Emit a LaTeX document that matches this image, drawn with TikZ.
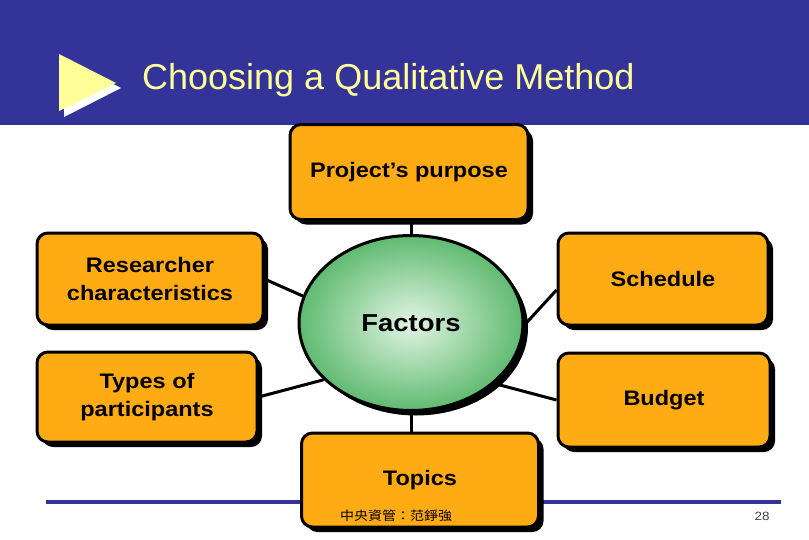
\documentclass[tikz,border=0pt]{standalone}
\usepackage{fontspec}
\setmainfont[FakeStretch=1.12]{Liberation Sans}
\newfontfamily\titlefont{Liberation Sans}
\newfontfamily\cjk[FakeStretch=1.12]{Noto Sans CJK TC}
\usepackage{xcolor}
\usepackage{tikz}
\usetikzlibrary{shapes.geometric, shadows, positioning}
\definecolor{hdrblue}{RGB}{51,51,153}
\definecolor{titleyellow}{RGB}{255,255,153}
\definecolor{boxorange}{RGB}{255,172,20}
\definecolor{ovalgreen}{RGB}{96,186,112}
\definecolor{ovallight}{RGB}{226,245,228}
\tikzset{
  factorbox/.style={rectangle, draw=black, fill=boxorange, line width=3pt,
    rounded corners=11pt, align=center, inner sep=0pt,
    font=\bfseries\fontsize{21}{28}\selectfont,
    drop shadow={shadow xshift=5pt, shadow yshift=-5pt, opacity=1, fill=black}},
  hub/.style={ellipse, draw=black, line width=3pt, inner sep=0pt,
    inner color=ovallight, outer color=ovalgreen,
    font=\bfseries\fontsize{24.5}{28}\selectfont,
    drop shadow={shadow xshift=5pt, shadow yshift=-5pt, opacity=1, fill=black}},
  link/.style={line width=3pt, color=black}
}

\begin{document}
\begin{tikzpicture}[x=1pt, y=-1pt]
  \useasboundingbox (0,0) rectangle (809,539);

  % Header band and bullet
  \fill[hdrblue] (0,0) rectangle (809,125);
  \fill[white] (64,59) -- (121,88) -- (64,117) -- cycle;
  \fill[titleyellow] (59,54) -- (116,83) -- (59,111) -- cycle;
  \node[anchor=base west, inner sep=0pt, text=titleyellow,
    font=\titlefont\fontsize{36}{40}\selectfont] (title) at (142,89) {Choosing a Qualitative Method};

  % Footer rule
  \draw[hdrblue, line width=4pt] (46,502) -- (781,502);

  % Central oval
  \node[hub, minimum width=224pt, minimum height=175pt] (fac) at (411,323) {Factors};

  % Factor boxes
  \node[factorbox, minimum width=238pt, minimum height=95pt] (purpose) at (409,172) {Project’s purpose};
  \node[factorbox, minimum width=226pt, minimum height=92pt] (res) at (150,279) {Researcher\\characteristics};
  \node[factorbox, minimum width=220pt, minimum height=90pt] (types) at (147,397) {Types of\\participants};
  \node[factorbox, minimum width=210pt, minimum height=92pt] (sched) at (663,279) {Schedule};
  \node[factorbox, minimum width=212pt, minimum height=94pt] (budget) at (664,400) {Budget};
  \node[factorbox, minimum width=237pt, minimum height=94pt] (topics) at (420,480) {Topics};

  % Spokes
  \draw[link] (fac.north) -- (fac.north |- purpose.south);
  \draw[link] (fac.south) -- (fac.south |- topics.north);
  \draw[link] (res.east) -- (fac.166);
  \draw[link] (types.east) -- (fac.213);
  \draw[link] ([yshift=-11pt]sched.west) -- (fac.359);
  \draw[link] (budget.west) -- (fac.324);

  % Footer texts
  \node[font=\cjk\fontsize{12.5}{14}\selectfont] (credit) at (396,516) {中央資管：范錚強};
  \node[font=\fontsize{12}{14}\selectfont, text=black!75] (pgnum) at (762,516) {28};
\end{tikzpicture}
\end{document}
